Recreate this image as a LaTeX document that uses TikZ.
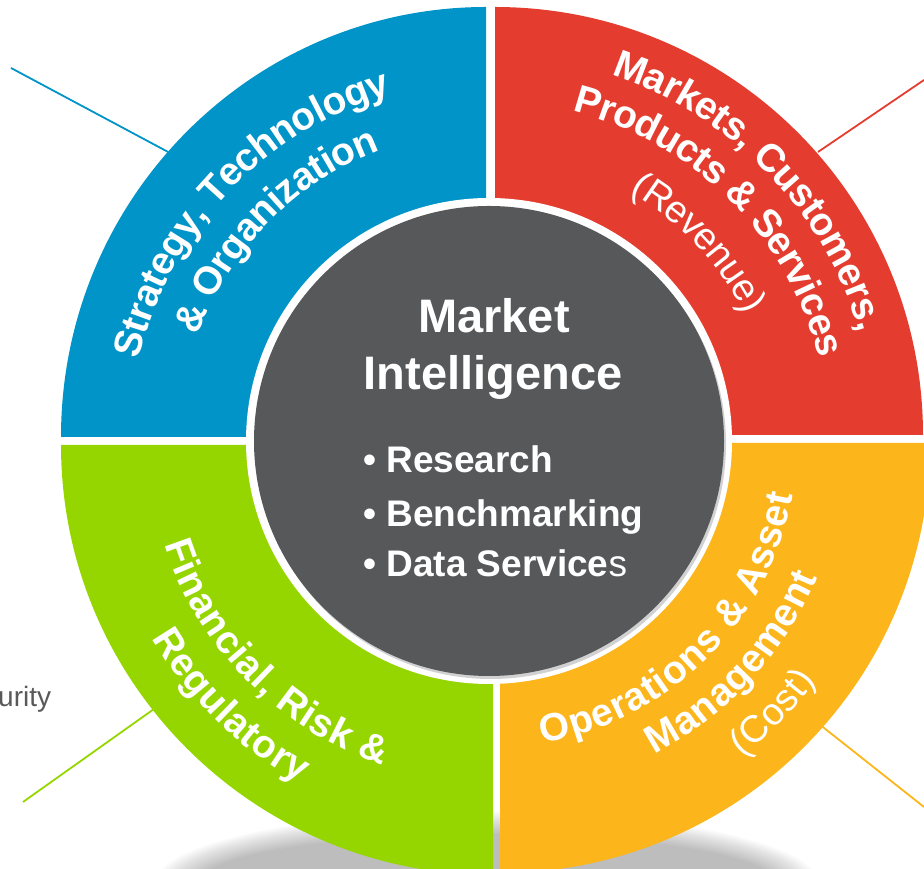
\documentclass[tikz,border=0pt]{standalone}
\usepackage{fontspec}
\setmainfont{Liberation Sans}
\usetikzlibrary{decorations.text,calc}

\definecolor{qblue}{RGB}{0,148,200}
\definecolor{qred}{RGB}{228,61,48}
\definecolor{qgreen}{RGB}{150,214,0}
\definecolor{qorange}{RGB}{252,181,26}
\definecolor{coregray}{RGB}{87,88,90}
\definecolor{labelgray}{RGB}{89,89,89}

\newcommand\segbold{\bfseries\fontsize{39}{47}\selectfont}
\newcommand\segreg{\fontsize{38}{46}\selectfont}

\tikzset{
  leader/.style={line width=1.8pt},
  segtext/.style={decorate, decoration={text along path, text align=center, raise=-12pt, text color=white, text={#1}}},
  coretitle/.style={text=white, font=\bfseries\fontsize{47}{57}\selectfont, inner sep=0pt, anchor=base},
  corebullet/.style={text=white, font=\bfseries\fontsize{37}{44}\selectfont, inner sep=0pt, anchor=base west},
}

\begin{document}
\begin{tikzpicture}[x=1pt,y=1pt]
\useasboundingbox (0,0) rectangle (924,869);

\coordinate (C) at (490,429);

% soft shadow on the floor: stacked translucent ellipses
\foreach \k in {0,...,14}
  \fill[black, opacity=0.018] (487,-15) ellipse[x radius={290+3*\k}, y radius={50+1.6*\k}];

% leader lines towards the outside labels
\coordinate (bl1) at (11,801);   \coordinate (bl2) at (170,716);
\coordinate (rl1) at (818,717);  \coordinate (rl2) at (924,789);
\coordinate (gl1) at (23,67);    \coordinate (gl2) at (154,160);
\coordinate (ol1) at (819,145);  \coordinate (ol2) at (924,62);
\draw[leader, qblue] (bl1) -- (bl2);
\draw[leader, qred] (rl1) -- (rl2);
\draw[leader, qgreen] (gl1) -- (gl2);
\draw[leader, qorange] (ol1) -- (ol2);

% the four quadrants, each pulled slightly outwards
\coordinate (qb) at (486,432);
\coordinate (qr) at (495,434);
\coordinate (qg) at (493,424);
\coordinate (qo) at (500,426);
\fill[qblue]   (qb) -- ++(0,430) arc[start angle=90, end angle=180, x radius=425, y radius=430] -- cycle;
\fill[qred]    (qr) -- ++(428,0) arc[start angle=0, end angle=90, radius=428] -- cycle;
\fill[qgreen]  (qg) -- ++(-432,0) arc[start angle=180, end angle=270, x radius=432, y radius=430] -- cycle;
\fill[qorange] (qo) -- ++(0,-430) arc[start angle=270, end angle=360, radius=430] -- cycle;

% core disc
\fill[white] (489,428) circle[radius=243];
\fill[black!18] (491,425) circle[radius=235];
\fill[coregray] (489,428) circle[radius=235];

\node[coretitle] (mkt) at (494,536) {Market};
\node[coretitle] (intel) at (493,479) {Intelligence};
\node[corebullet] (b1) at (363,396) {• Research};
\node[corebullet] (b2) at (363,342) {• Benchmarking};
\node[corebullet] (b3) at (363,292) {• Data Service{\mdseries s}};

% curved segment captions
\path[segtext={|\segbold|Strategy, Technology}]
  ($(C)+(186.5:372)$) arc[start angle=186.5, end angle=86.5, radius=372];
\path[segtext={|\segbold|{\&} Organization}]
  ($(C)+(185.5:322)$) arc[start angle=185.5, end angle=85.5, radius=322];

\path[segtext={|\segbold|Markets, Customers,}]
  ($(C)+(93.9:397)$) arc[start angle=93.9, end angle=-6.1, radius=397];
\path[segtext={|\segbold|Products {\&} Services}]
  ($(C)+(94.9:351)$) arc[start angle=94.9, end angle=-5.1, radius=351];
\path[segtext={|\segreg|(Revenue)}]
  ($(C)+(93.3:296)$) arc[start angle=93.3, end angle=-6.7, radius=296];

\path[segtext={|\segbold|Financial, Risk {\&}}]
  ($(C)+(174.8:330)$) arc[start angle=174.8, end angle=274.8, radius=330];
\path[segtext={|\segbold|Regulatory}]
  ($(C)+(175.7:380)$) arc[start angle=175.7, end angle=275.7, radius=380];

\path[segtext={|\segbold|Operations {\&} Asset}]
  ($(C)+(264.75:296)$) arc[start angle=264.75, end angle=364.75, radius=296];
\path[segtext={|\segbold|Management}]
  ($(C)+(267.4:343)$) arc[start angle=267.4, end angle=367.4, radius=343];
\path[segtext={|\segreg|(Cost)}]
  ($(C)+(266:393)$) arc[start angle=266, end angle=366, radius=393];

% partly visible outside label
\node[text=labelgray, font=\fontsize{28}{33}\selectfont, inner sep=0pt, anchor=base west] (sec) at (-2,162) {urity};
\end{tikzpicture}
\end{document}
